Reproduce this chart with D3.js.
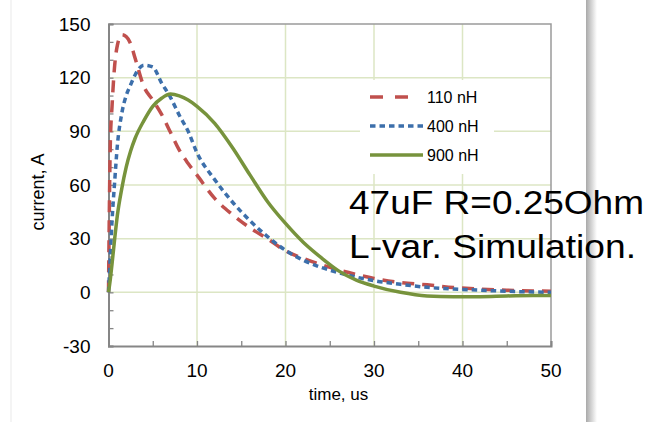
<!DOCTYPE html>
<html>
<head>
<meta charset="utf-8">
<script src="https://cdn.jsdelivr.net/npm/d3@7"></script>
<style>
  body { margin: 0; background: #fff; }
  text { font-family: "Liberation Sans", Arial, sans-serif; fill: #000; }
</style>
</head>
<body>
<div id="chart"></div>
<script>
// current vs time for three inductances

var times = [0, 0.2, 0.4, 0.7, 1, 1.5, 2, 2.5, 3, 4, 5, 6, 7, 8, 9, 10, 12, 14, 16, 18, 20, 22, 24, 26, 28, 30, 33, 36, 39, 42, 45, 48, 50];
var i110 = [0, 82, 104, 127, 138, 144, 143, 139, 131, 115, 107.5, 99.5, 89.5, 79.5, 72, 65.5, 52.5, 43.5, 36, 29.8, 23.2, 19, 15.5, 12.5, 10, 7.8, 5.5, 4.2, 2.7, 1.8, 1.2, 0.8, 0.6];
var i400 = [0, 20, 40, 62, 82, 100, 110, 116, 121.5, 127, 126, 117, 109, 99, 90, 78, 63, 50.5, 40, 31, 23.5, 18, 14, 11, 8.5, 6.5, 4.5, 2.8, 1.8, 1.2, 0.6, 0.2, 0];
var i900 = [0, 7, 16, 30, 43, 58, 70, 79, 86, 96, 104, 108.5, 110.8, 109.8, 107.5, 104, 94.5, 81, 65.5, 50.5, 38.5, 28, 19.5, 12, 6.8, 3.5, 0, -2, -2.4, -2.4, -2, -1.8, -1.8];

var seriesNames = ["110 nH", "400 nH", "900 nH"];
var seriesColors = ["#c0504d", "#3c6fab", "#77933c"];
var seriesDash = ["12,8", "5.5,4", null];

var xTicks = [0, 10, 20, 30, 40, 50];
var yTicks = [-30, 0, 30, 60, 90, 120, 150];
var note1 = "47uF R=0.25Ohm";
var note2 = "L-var. Simulation.";

var svgWidth = 658;
var svgHeight = 422;

var margin = { top: 24, right: 107, bottom: 76, left: 108.5 };
var width = svgWidth - margin.left - margin.right;
var height = svgHeight - margin.top - margin.bottom;

var svg = d3.select("#chart")
  .append("svg")
  .attr("width", svgWidth)
  .attr("height", svgHeight);

// slide background with shadow on the right
var defs = svg.append("defs");
var grad = defs.append("linearGradient").attr("id", "shade");
grad.append("stop").attr("offset", "0%").attr("stop-color", "#a9a9a9");
grad.append("stop").attr("offset", "100%").attr("stop-color", "#ffffff");

svg.append("rect")
  .attr("x", 586).attr("y", 0).attr("width", 11).attr("height", svgHeight)
  .attr("fill", "url(#shade)");
svg.append("line")
  .attr("x1", 11).attr("x2", 11).attr("y1", 0).attr("y2", svgHeight)
  .attr("stroke", "#f1f1f1").attr("stroke-width", 1.5);

var chartGroup = svg.append("g")
  .attr("transform", `translate(${margin.left}, ${margin.top})`);

var xScale = d3.scaleLinear().domain([0, 50]).range([0, width]);
var yScale = d3.scaleLinear().domain([-30, 150]).range([height, 0]);

// gridlines
chartGroup.append("g")
  .selectAll("line")
  .data(xTicks.slice(1, -1))
  .enter()
  .append("line")
  .attr("x1", d => xScale(d)).attr("x2", d => xScale(d))
  .attr("y1", 0).attr("y2", height)
  .attr("stroke", "#dce6c4").attr("stroke-width", 1.5);

chartGroup.append("g")
  .selectAll("line")
  .data(yTicks.slice(1, -1))
  .enter()
  .append("line")
  .attr("x1", 0).attr("x2", width)
  .attr("y1", d => yScale(d)).attr("y2", d => yScale(d))
  .attr("stroke", "#dce6c4").attr("stroke-width", 1.5);

// frame top/right
chartGroup.append("path")
  .attr("d", `M0,0H${width}V${height}`)
  .attr("fill", "none")
  .attr("stroke", "#9a9a9a")
  .attr("stroke-width", 1.5);

// axes with inside ticks
var bottomAxis = d3.axisBottom(xScale).tickValues(d3.range(0, 51, 5)).tickSize(-5).tickFormat("");
var leftAxis = d3.axisLeft(yScale).tickValues(d3.range(-30, 151, 10)).tickSize(-5).tickFormat("");

var gx = chartGroup.append("g")
  .attr("transform", `translate(0, ${height})`)
  .call(bottomAxis);
var gy = chartGroup.append("g")
  .call(leftAxis);
[gx, gy].forEach(function(g) {
  g.select(".domain").attr("stroke", "#868686").attr("stroke-width", 2);
  g.selectAll(".tick line").attr("stroke", "#868686").attr("stroke-width", 1.3);
});

// tick labels
chartGroup.append("g").selectAll("text")
  .data(xTicks)
  .enter()
  .append("text")
  .attr("x", d => xScale(d))
  .attr("y", height + 31)
  .attr("text-anchor", "middle")
  .style("font-size", "19px")
  .text(d => d);

chartGroup.append("g").selectAll("text")
  .data(yTicks)
  .enter()
  .append("text")
  .attr("x", -18)
  .attr("y", d => yScale(d))
  .attr("dy", "0.35em")
  .attr("text-anchor", "end")
  .style("font-size", "19px")
  .text(d => d);

// series
var allSeries = [i110, i400, i900];
var line = d3.line()
  .x(d => xScale(d[0]))
  .y(d => yScale(d[1]))
  .curve(d3.curveMonotoneX);

allSeries.forEach(function(vals, k) {
  chartGroup.append("path")
    .datum(times.map((t, j) => [t, vals[j]]))
    .attr("d", line)
    .attr("fill", "none")
    .attr("stroke", seriesColors[k])
    .attr("stroke-width", 3.5)
    .attr("stroke-dasharray", seriesDash[k]);
});

// legend
var legend = svg.append("g").attr("transform", "translate(360, 80)");
legend.append("rect")
  .attr("width", 134).attr("height", 94)
  .attr("fill", "#fff");
seriesNames.forEach(function(name, k) {
  var y = 17 + k * 29;
  legend.append("line")
    .attr("x1", 10).attr("x2", k === 0 ? 48 : 63)
    .attr("y1", y).attr("y2", y)
    .attr("stroke", seriesColors[k])
    .attr("stroke-width", 3.5)
    .attr("stroke-dasharray", k === 0 ? "13,12" : seriesDash[k]);
  legend.append("text")
    .attr("x", 67)
    .attr("y", y)
    .attr("dy", "0.35em")
    .style("font-size", "16px")
    .text(name);
});

// axis titles
chartGroup.append("text")
  .attr("transform", "rotate(-90)")
  .attr("x", 0 - 168)
  .attr("y", -65)
  .attr("text-anchor", "middle")
  .style("font-size", "18px")
  .text("current, A");

chartGroup.append("text")
  .attr("x", 230)
  .attr("y", height + 54)
  .attr("text-anchor", "middle")
  .style("font-size", "17px")
  .text("time, us");

// annotation
svg.append("text")
  .attr("x", 349).attr("y", 214)
  .attr("textLength", 295).attr("lengthAdjust", "spacingAndGlyphs")
  .style("font-size", "34px")
  .text(note1);
svg.append("text")
  .attr("x", 349).attr("y", 258)
  .attr("textLength", 287).attr("lengthAdjust", "spacingAndGlyphs")
  .style("font-size", "34px")
  .text(note2);
</script>
</body>
</html>
